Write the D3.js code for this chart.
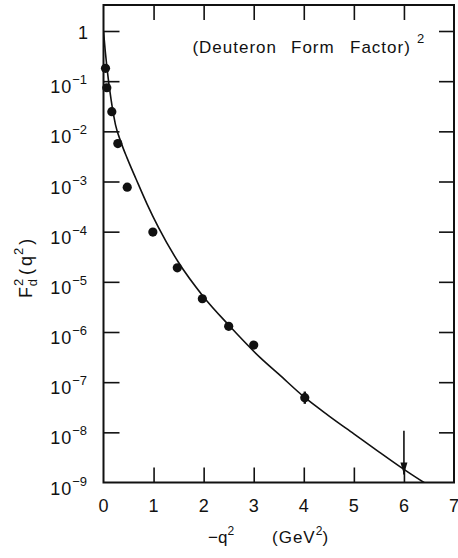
<!DOCTYPE html>
<html>
<head>
<meta charset="utf-8">
<script src="https://cdn.jsdelivr.net/npm/d3@7"></script>
<style>
body { margin: 0; background: #fff; }
svg text { font-family: "Liberation Sans", Arial, sans-serif; fill: #111; }
</style>
</head>
<body>
<svg id="chart" width="458" height="558"></svg>
<script>
// data
const q2_data = [0.04, 0.066, 0.166, 0.286, 0.474, 0.986, 1.474, 1.974, 2.5, 3.0, 4.02]
const f2_data = [0.18, 0.074, 0.0247, 0.0057, 7.7e-4, 9.8e-5, 1.9e-5, 4.6e-6, 1.3e-6, 5.5e-7, 4.9e-8]
const err_lo = [null, null, null, null, null, null, null, null, null, null, 3.7e-8]
const err_hi = [null, null, null, null, null, null, null, null, null, null, 6.5e-8]
// upper limit at 6 GeV^2
const limit_q2 = 6
const limit_top = 1.07e-8
const limit_val = 1.45e-9
// theory curve (log10 of F^2)
const curve_q2 = [0, 0.035, 0.07, 0.15, 0.24, 0.35, 0.47, 0.65, 0.87, 1.1, 1.49, 2.0, 2.5, 3.13, 3.5, 4.0, 4.5, 5.0, 5.5, 6.0, 6.4, 6.6]
const curve_log = [0, -0.40, -0.74, -1.36, -1.87, -2.22, -2.53, -2.95, -3.45, -3.92, -4.6, -5.3, -5.86, -6.51, -6.84, -7.29, -7.67, -8.03, -8.39, -8.74, -9.0, -9.12]
const x_ticks = [0, 1, 2, 3, 4, 5, 6, 7]
const y_exps = [0, -1, -2, -3, -4, -5, -6, -7, -8, -9]
const title_words = ['(Deuteron', 'Form', 'Factor)']

const svg = d3.select('#chart')
const pLeft = 103.5, pRight = 454, pTop = 5, pBottom = 482.5

const x = d3.scaleLinear().domain([0, 7]).range([pLeft, pRight])
const y = d3.scaleLog().domain([1e-9, 1]).range([pBottom, 31])

svg.append('defs').append('clipPath').attr('id', 'clip')
  .append('rect').attr('x', pLeft).attr('y', pTop).attr('width', pRight - pLeft).attr('height', pBottom - pTop)

// axes, ticks inward on all four sides
const tickLen = 15
const axB = d3.axisBottom(x).tickValues(x_ticks.slice(1, 7)).tickSize(-tickLen).tickFormat('')
const axT = d3.axisTop(x).tickValues(x_ticks.slice(1, 7)).tickSize(-tickLen).tickFormat('')
const yv = y_exps.slice(0, 9).map(e => Math.pow(10, e))
const axL = d3.axisLeft(y).tickValues(yv).tickSize(-16).tickFormat('')
const axR = d3.axisRight(y).tickValues(yv).tickSize(-tickLen).tickFormat('')

function drawAxis(ax, tr) {
  const g = svg.append('g').attr('transform', tr).call(ax)
  g.select('.domain').remove()
  g.selectAll('.tick line').attr('stroke', '#111').attr('stroke-width', 1.6)
}
drawAxis(axB, `translate(0,${pBottom})`)
drawAxis(axT, `translate(0,${pTop})`)
drawAxis(axL, `translate(${pLeft},0)`)
drawAxis(axR, `translate(${pRight},0)`)

svg.append('rect')
  .attr('x', pLeft).attr('y', pTop)
  .attr('width', pRight - pLeft).attr('height', pBottom - pTop)
  .attr('fill', 'none').attr('stroke', '#111').attr('stroke-width', 2)

// x tick labels
svg.selectAll('text.xl').data(x_ticks).enter()
  .append('text').attr('class', 'xl')
  .attr('x', d => x(d)).attr('y', 512)
  .attr('text-anchor', 'middle').attr('font-size', 18)
  .text(d => d)

// y tick labels
y_exps.forEach(e => {
  const yy = y(Math.pow(10, e))
  if (e === 0) {
    svg.append('text').attr('x', 88).attr('y', yy + 8).attr('text-anchor', 'end')
      .attr('font-size', 18).text('1')
    return
  }
  const t = svg.append('text').attr('x', 87).attr('y', yy + 12).attr('text-anchor', 'end').attr('font-size', 18)
  t.append('tspan').attr('letter-spacing', 1).text('10')
  t.append('tspan').attr('font-size', 13).attr('dy', -9).text('\u2212' + (-e))
})

// axis titles
const xt = svg.append('text').attr('x', 208).attr('y', 543).attr('font-size', 17)
xt.append('tspan').text('\u2212q')
xt.append('tspan').attr('font-size', 12).attr('dy', -8).text('2')
xt.append('tspan').attr('x', 272).attr('dy', 8).attr('letter-spacing', 1).text('(GeV')
xt.append('tspan').attr('font-size', 12).attr('dy', -8).text('2')
xt.append('tspan').attr('dy', 8).text(')')

const yt = svg.append('text')
  .attr('transform', 'translate(32,298) rotate(-90)')
  .attr('font-size', 18)
yt.append('tspan').text('F')
yt.append('tspan').attr('font-size', 13).attr('dy', -9).attr('dx', 1).text('2')
yt.append('tspan').attr('font-size', 13).attr('dx', -7.5).attr('dy', 14).text('d')
yt.append('tspan').attr('dy', -5).attr('dx', 4).attr('letter-spacing', 3).text('(q')
yt.append('tspan').attr('font-size', 13).attr('dy', -9).attr('dx', -2).text('2')
yt.append('tspan').attr('dy', 9).attr('dx', 3).text(')')

// title, words placed as in the picture
const tt = svg.append('text').attr('y', 53).attr('font-size', 17).attr('letter-spacing', 1)
tt.append('tspan').attr('x', 277).attr('text-anchor', 'end').text(title_words[0])
tt.append('tspan').attr('x', 291).text(title_words[1])
tt.append('tspan').attr('x', 350).text(title_words[2])
svg.append('text').attr('x', 417).attr('y', 43).attr('font-size', 13).text('2')

// theory curve
const curve = curve_q2.map((q, i) => [q, Math.pow(10, curve_log[i])])
const line = d3.line().x(d => x(d[0])).y(d => y(d[1])).curve(d3.curveMonotoneX)
svg.append('path').datum(curve)
  .attr('clip-path', 'url(#clip)')
  .attr('d', line)
  .attr('fill', 'none').attr('stroke', '#111').attr('stroke-width', 1.6)

// error bars
q2_data.forEach((q, i) => {
  if (err_lo[i] == null) return
  svg.append('line')
    .attr('x1', x(q)).attr('x2', x(q))
    .attr('y1', y(err_lo[i])).attr('y2', y(err_hi[i]))
    .attr('stroke', '#111').attr('stroke-width', 2.4)
})

// data points
svg.selectAll('circle.pt').data(q2_data).enter()
  .append('circle').attr('class', 'pt')
  .attr('cx', d => x(d)).attr('cy', (d, i) => y(f2_data[i]))
  .attr('r', 4.6).attr('fill', '#111')

// upper limit arrow
const ax6 = x(limit_q2), yTip = y(limit_val)
svg.append('line')
  .attr('x1', ax6).attr('x2', ax6)
  .attr('y1', y(limit_top)).attr('y2', yTip)
  .attr('stroke', '#111').attr('stroke-width', 1.6)
svg.append('path')
  .attr('d', `M${ax6 - 3.5},${yTip - 12} L${ax6 + 3.5},${yTip - 12} L${ax6},${yTip} Z`)
  .attr('fill', '#111')
</script>
</body>
</html>
